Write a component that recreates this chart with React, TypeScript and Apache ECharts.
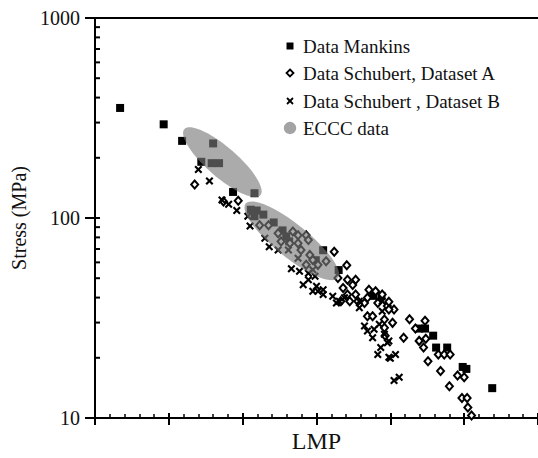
import { useEffect, useRef } from "react";
import * as echarts from "echarts";

// ---- Data (LMP in thousands, stress in MPa) ----
const mankinsLMP = [18.34, 18.93, 19.18, 19.6, 19.44, 19.58, 19.68, 19.87, 20.16, 20.11, 20.19, 20.28, 20.16, 20.42, 20.54, 20.59, 20.63, 21.09, 20.99, 21.3, 21.77, 21.88, 22.39, 22.47, 22.58, 22.62, 22.77, 22.98, 23.03, 23.38];
const mankinsStress = [355, 294, 243, 236, 191, 188, 188, 135, 133, 110, 109, 104, 102, 95, 86.7, 80.9, 76.4, 69, 61.5, 54.9, 40.8, 40.8, 28, 28, 25.8, 22.5, 22.5, 18, 17.6, 14.1];

const schubertALMP = [19.35, 19.74, 19.94, 20.23, 20.35, 20.48, 20.68, 20.75, 20.86, 20.89, 20.52, 20.64, 20.75, 20.79, 20.91, 20.95, 21.02, 20.86, 21.13, 21.24, 21.41, 21.29, 21.42, 21.53, 21.36, 21.49, 21.42, 21.53, 21.33, 21.45, 21.56, 21.71, 21.8, 21.89, 21.69, 21.65, 21.83, 21.96, 22.05, 21.98, 21.98, 21.69, 21.76, 21.92, 22.03, 21.92, 21.93, 22.18, 22.26, 22.34, 22.47, 22.39, 22.48, 22.45, 22.65, 22.73, 22.81, 22.51, 22.68, 22.91, 23.0, 22.8, 22.97, 23.04, 23.05, 23.1];
const schubertAStress = [147, 121, 122, 92.1, 92.1, 83.8, 85.7, 81.9, 81.9, 77.6, 76.4, 74.7, 74.7, 69.2, 65.4, 61.7, 58.3, 58.3, 60.8, 67.8, 58.1, 50.1, 49.1, 49.1, 44.7, 46.2, 41.4, 41.4, 38.4, 38.4, 38.4, 43.8, 43.0, 41.4, 39.9, 37.6, 37.6, 36.3, 34.9, 38.1, 34.9, 32.3, 32.3, 31.1, 29.9, 28.3, 25.8, 25.2, 31.2, 28.0, 30.6, 24.3, 24.9, 22.5, 20.8, 20.8, 20.8, 19.2, 17.2, 16.3, 16.0, 14.4, 12.6, 12.6, 11.3, 10.3];

const schubertBLMP = [19.4, 19.55, 19.72, 19.81, 19.92, 20.07, 20.1, 20.3, 20.36, 20.48, 20.62, 20.75, 20.66, 20.77, 20.89, 20.95, 20.98, 20.82, 20.89, 21.0, 21.09, 21.02, 20.95, 21.09, 21.22, 21.27, 21.38, 21.31, 21.58, 21.58, 21.65, 21.69, 21.78, 21.76, 21.85, 21.89, 21.89, 21.92, 21.96, 21.87, 21.98, 22.07, 21.83, 22.05, 22.12, 21.98, 22.0];
const schubertBStress = [175, 153, 123, 117, 109, 102, 91.1, 79.1, 71.9, 69.2, 69.2, 63.0, 55.8, 54.1, 53.0, 55.1, 51.1, 46.4, 49.1, 45.6, 43.8, 43.0, 43.0, 41.4, 40.6, 37.6, 39.9, 38.4, 35.6, 38.4, 28.8, 27.2, 27.8, 25.2, 29.4, 34.2, 38.4, 26.2, 23.8, 22.5, 20.1, 20.8, 20.8, 15.4, 16.0, 24.3, 19.9];

// ECCC data regions: ellipse long-axis end points and minor/major ratio
const ecccStartLMP = [19.21, 20.04];
const ecccStartStress = [278, 118];
const ecccEndLMP = [20.24, 21.29];
const ecccEndStress = [130, 50.1];
const ecccWidthRatio = [0.3, 0.28];

const yMinorTicks = [20, 30, 40, 50, 60, 70, 80, 90, 200, 300, 400, 500, 600, 700, 800, 900];
const legendNames = ["Data Mankins", "Data Schubert, Dataset A", "Data Schubert , Dataset B", "ECCC data"];

const SERIF = '"Liberation Serif", "Times New Roman", serif';
const INK = "#000";
const CROSS = "path://M1.5,0L4,2.5L6.5,0L8,1.5L5.5,4L8,6.5L6.5,8L4,5.5L1.5,8L0,6.5L2.5,4L0,1.5Z";
const X_MIN = 18;

const zip = (a: number[], b: number[]) => a.map((v, i) => [v, b[i]]);

export default function App() {
  const ref = useRef<HTMLDivElement>(null);
  useEffect(() => {
    const chart = echarts.init(ref.current!, null, { renderer: "svg" });
    const xBase = { type: "value", min: X_MIN, max: 24, interval: 1, gridIndex: 0, axisLabel: { show: false }, splitLine: { show: false } };
    const yBase = { type: "log", logBase: 10, min: 10, max: 1000, gridIndex: 0, position: "left", splitLine: { show: false } };
    const legendRowY = [46, 73, 101, 128];
    const mx = 290;
    const legendGraphics: any[] = [
      { type: "rect", shape: { x: mx - 3.5, y: legendRowY[0] - 3.5, width: 7, height: 7 }, style: { fill: "#000" } },
      { type: "polygon", shape: { points: [[mx, legendRowY[1] - 3.5], [mx + 3.5, legendRowY[1]], [mx, legendRowY[1] + 3.5], [mx - 3.5, legendRowY[1]]] }, style: { fill: "#fff", stroke: "#000", lineWidth: 1.8 } },
      { type: "line", shape: { x1: mx - 3, y1: legendRowY[2] - 3, x2: mx + 3, y2: legendRowY[2] + 3 }, style: { stroke: "#000", lineWidth: 1.8 } },
      { type: "line", shape: { x1: mx + 3, y1: legendRowY[2] - 3, x2: mx - 3, y2: legendRowY[2] + 3 }, style: { stroke: "#000", lineWidth: 1.8 } },
      { type: "circle", shape: { cx: mx, cy: legendRowY[3], r: 6.2 }, style: { fill: "#a3a3a3" } },
      ...legendNames.map((n, i) => ({
        type: "text",
        x: 303,
        y: legendRowY[i],
        style: { text: n, font: `19px ${SERIF}`, fill: "#111", verticalAlign: "middle", align: "left" },
      })),
    ];

    chart.setOption({
      animation: false,
      backgroundColor: "#fff",
      grid: { left: 95, top: 18, width: 447, height: 403 },
      xAxis: [
        {
          ...xBase,
          position: "bottom",
          axisLine: { lineStyle: { color: INK, width: 2 } },
          axisTick: { inside: true, length: 5, lineStyle: { color: INK, width: 2 } },
          minorTick: { show: true, splitNumber: 5, length: 4, lineStyle: { color: INK, width: 1.5 } },
          name: "LMP",
          nameLocation: "middle",
          nameGap: 11,
          nameTextStyle: { fontFamily: SERIF, fontSize: 24, color: "#111" },
        },
        {
          ...xBase,
          position: "bottom",
          axisLine: { show: false },
          axisTick: { inside: false, length: 7, lineStyle: { color: INK, width: 2 } },
        },
        {
          ...xBase,
          position: "top",
          axisLine: { lineStyle: { color: INK, width: 2 } },
          axisTick: { show: false },
        },
      ],
      yAxis: [
        {
          ...yBase,
          axisLine: { lineStyle: { color: INK, width: 2 } },
          axisTick: { inside: true, length: 5, lineStyle: { color: INK, width: 2 } },
          axisLabel: { fontFamily: SERIF, fontSize: 20, color: "#111", margin: 15, formatter: (v: number) => String(Math.round(v)) },
          name: "Stress (MPa)",
          nameLocation: "middle",
          nameRotate: 90,
          nameGap: 60,
          nameTextStyle: { fontFamily: SERIF, fontSize: 20, color: "#111" },
        },
        {
          ...yBase,
          axisLine: { show: false },
          axisLabel: { show: false },
          axisTick: { inside: false, length: 10, lineStyle: { color: INK, width: 2 } },
        },
      ],
      graphic: legendGraphics,
      series: [
        {
          name: "y minor ticks",
          type: "custom",
          silent: true,
          clip: false,
          z: 5,
          data: yMinorTicks.map((v) => [X_MIN, v]),
          renderItem: (params: any, api: any) => {
            const p = api.coord([api.value(0), api.value(1)]);
            return {
              type: "line",
              shape: { x1: p[0], y1: p[1], x2: p[0] + 5, y2: p[1] },
              style: { stroke: INK, lineWidth: 2 },
            };
          },
        },
        {
          name: legendNames[0],
          type: "scatter",
          silent: true,
          symbol: "rect",
          symbolSize: 8,
          itemStyle: { color: "#000", opacity: 1 },
          data: zip(mankinsLMP, mankinsStress),
          z: 2,
        },
        {
          name: legendNames[1],
          type: "scatter",
          silent: true,
          symbol: "diamond",
          symbolSize: [7, 8],
          itemStyle: { color: "#fff", borderColor: "#000", borderWidth: 2, opacity: 1 },
          data: zip(schubertALMP, schubertAStress),
          z: 2,
        },
        {
          name: legendNames[2],
          type: "scatter",
          silent: true,
          symbol: CROSS,
          symbolSize: 8,
          itemStyle: { color: "#000", opacity: 1 },
          data: zip(schubertBLMP, schubertBStress),
          z: 2,
        },
        {
          name: legendNames[3],
          type: "custom",
          silent: true,
          z: 4,
          data: ecccStartLMP.map((v, i) => [v, ecccStartStress[i], ecccEndLMP[i], ecccEndStress[i], ecccWidthRatio[i]]),
          encode: { x: [0, 2], y: [1, 3] },
          renderItem: (params: any, api: any) => {
            const p1 = api.coord([api.value(0), api.value(1)]);
            const p2 = api.coord([api.value(2), api.value(3)]);
            const dx = p2[0] - p1[0];
            const dy = p2[1] - p1[1];
            const a = Math.hypot(dx, dy) / 2;
            const ang = Math.atan2(dy, dx);
            return {
              type: "ellipse",
              x: (p1[0] + p2[0]) / 2,
              y: (p1[1] + p2[1]) / 2,
              rotation: -ang,
              shape: { cx: 0, cy: 0, rx: a, ry: a * api.value(4) },
              style: { fill: "#7a7a7a", opacity: 0.63 },
            };
          },
        },
      ],
    });
    return () => chart.dispose();
  }, []);
  return (
    <div
      ref={ref}
      style={{ position: "fixed", left: 0, top: 0, width: 538, height: 458, background: "#fff" }}
    />
  );
}
